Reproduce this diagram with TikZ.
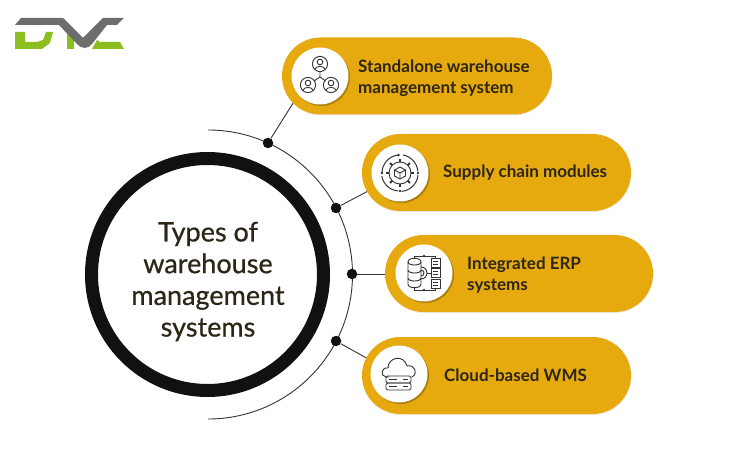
\documentclass[tikz,border=0pt]{standalone}
\usepackage{fontspec}
\setmainfont{Lato}
\newfontfamily\midfont[FakeBold=0.6]{Lato}
\usetikzlibrary{shapes.misc}
\definecolor{gold}{HTML}{E6A90E}
\definecolor{gshadow}{HTML}{C9C4B4}
\definecolor{ink}{HTML}{2B2616}
\definecolor{ringc}{HTML}{111111}
\definecolor{lineC}{HTML}{333333}
\definecolor{logoG}{HTML}{6D6D6D}
\definecolor{logoL}{HTML}{8CBE22}
\tikzset{
  pill/.style={rounded rectangle,fill=gold,draw=none,minimum height=77pt,inner sep=0pt},
  pillshadow/.style={rounded rectangle,fill=gshadow,opacity=.35,draw=none,minimum height=77pt,inner sep=0pt},
  disc/.style={circle,fill=white,minimum size=57pt,inner sep=0pt},
  discshadow/.style={circle,fill=black,opacity=.25,minimum size=57pt,inner sep=0pt},
  dotn/.style={circle,fill=ringc,minimum size=10.5pt,inner sep=0pt},
  conn/.style={draw=lineC,line width=.9pt},
  arcline/.style={draw=lineC,line width=.9pt},
  lab/.style={font=\fontsize{17}{21}\selectfont\bfseries,text=ink,align=left,inner sep=0pt},
  maintext/.style={font=\midfont\fontsize{27}{31.7}\selectfont,text=ink,align=center,inner sep=0pt},
  ic/.style={draw=lineC,line width=.9pt,fill=none},
}
\begin{document}
\begin{tikzpicture}[x=1pt,y=-1pt]
\useasboundingbox[fill=white] (0,0) rectangle (748,468);
% logo
\fill[logoL] (15,32) -- (25,32) -- (25,42) -- (37,42) -- (43,40) -- (46,32) -- (53,32) -- (50,43) -- (42,49) -- (15,49) -- cycle;
\fill[logoL] (67,32) -- (74,39) -- (74,49) -- (67,49) -- cycle;
\fill[logoL] (97,40) -- (100,42) -- (120,42) -- (124,49) -- (92,49) -- cycle;
\fill[logoG] (15,25) -- (21,18) -- (63,18) -- (83,38) -- (103,18) -- (124,18) -- (117,25) -- (107,25) -- (92,44) .. controls (88,49) and (82,49) .. (78,45) -- (59,25) -- cycle;
% arc and connectors
\coordinate (c) at (207.5,274.5);
\draw[arcline] (208,130) arc[start angle=-90,end angle=90,radius=144.5];
\node[dotn] (d1) at (268,143) {};
\node[dotn] (d2) at (336,208) {};
\node[dotn] (d3) at (352,274) {};
\node[dotn] (d4) at (336,341) {};
\coordinate (e1) at (295,100);
\coordinate (e2) at (370,190);
\coordinate (e3) at (390,274);
\coordinate (e4) at (370,360);
\draw[conn] (d1) -- (e1);
\draw[conn] (d2) -- (e2);
\draw[conn] (d3) -- (e3);
\draw[conn] (d4) -- (e4);
% big ring
\node[circle,draw=ringc,line width=13pt,fill=white,minimum size=232pt,inner sep=0pt] (hub) at (c) {};
\node[maintext] (title) at (208,281.5) {Types of\\warehouse\\management\\systems};
% pills
\node[pillshadow,minimum width=270pt] at (417.5,77) {};
\node[pillshadow,minimum width=269pt] at (497,173.5) {};
\node[pillshadow,minimum width=268pt] at (519.5,274.5) {};
\node[pillshadow,minimum width=269pt] at (497,376.5) {};
\node[pill,minimum width=270pt] (p1) at (417,76) {};
\node[pill,minimum width=269pt] (p2) at (496.5,172.5) {};
\node[pill,minimum width=268pt] (p3) at (519,273.5) {};
\node[pill,minimum width=269pt] (p4) at (496.5,375.5) {};
% discs
\node[discshadow] at (321.5,77.5) {};
\node[discshadow] at (401.5,174.5) {};
\node[discshadow] at (425.5,274.5) {};
\node[discshadow] at (400.5,375.5) {};
\node[disc] (w1) at (320,76) {};
\node[disc] (w2) at (400,173) {};
\node[disc] (w3) at (424,273) {};
\node[disc] (w4) at (399,374) {};
% labels
\node[lab,anchor=west] (t1) at (358,78) {Standalone warehouse\\management system};
\node[lab,anchor=west] (t2) at (443,172.5) {Supply chain modules};
\node[lab,anchor=west] (t3) at (467,275) {Integrated ERP\\systems};
\node[lab,anchor=west] (t4) at (444,375) {Cloud-based WMS};
% icon 1: three people
\begin{scope}[shift={(w1)}]
  \foreach \p/\q in {0/-12,-12/9,11/9}{
    \begin{scope}[shift={(\p,\q)}]
      \draw[ic] (0,0) circle (7.6);
      \draw[ic] (0,-2) circle (2.8);
      \draw[ic] (-5,5.2) .. controls (-4,1.5) and (4,1.5) .. (5,5.2);
    \end{scope}
  }
  \draw[ic] (0,-4.4) -- (0,1) -- (-6,5);
  \draw[ic] (0,1) -- (5.5,5);
\end{scope}
% icon 2: gear and box
\begin{scope}[shift={(w2)}]
  \draw[ic] (0,0) circle (11);
  \foreach \a in {0,45,...,315}{\draw[ic,line width=2pt,rotate=\a] (11,0) -- (14,0);}
  \draw[ic] (0,-6) -- (5.5,-3) -- (5.5,3) -- (0,6) -- (-5.5,3) -- (-5.5,-3) -- cycle;
  \draw[ic] (-5.5,-3) -- (0,0) -- (5.5,-3) (0,0) -- (0,6);
  \draw[ic,line width=1pt] (-18,0) arc[start angle=180,end angle=265,radius=18];
  \draw[ic,line width=1pt] (3,-18) arc[start angle=-80,end angle=-5,radius=18];
  \draw[ic,line width=1pt] (18,2) arc[start angle=5,end angle=85,radius=18];
  \draw[ic,line width=1pt] (-2,18) arc[start angle=95,end angle=170,radius=18];
  \fill[lineC] (-1.5,-18) circle (1.4) (18,0) circle (1.4) (0,18) circle (1.4) (-18,0) circle (1.4);
\end{scope}
% icon 3: database and modules
\begin{scope}[shift={(w3)}]
  \draw[ic] (-16,-11) .. controls (-16,-16) and (-3,-16) .. (-3,-11) -- (-3,11) .. controls (-3,16) and (-16,16) .. (-16,11) -- cycle;
  \draw[ic] (-16,-11) .. controls (-16,-7) and (-3,-7) .. (-3,-11);
  \draw[ic] (-16,-3) .. controls (-16,1) and (-3,1) .. (-3,-3);
  \draw[ic] (-16,5) .. controls (-16,9) and (-3,9) .. (-3,5);
  \draw[ic] (-3,-6) arc[start angle=-90,end angle=90,radius=6];
  \draw[ic] (-3,-3) arc[start angle=-90,end angle=90,radius=3];
  \draw[ic] (-10,-14) -- (-10,-17) -- (11,-17) -- (11,-15);
  \draw[ic] (-10,14) -- (-10,17) -- (11,17) -- (11,15);
  \draw[ic] (3,0) -- (7,0);
  \foreach \q in {-10.5,0,10.5}{
    \draw[ic] (7,\q-4.5) rectangle (16,\q+4.5);
    \draw[ic,line width=.6pt] (9,\q-1.5) -- (14,\q-1.5) (9,\q+1.5) -- (14,\q+1.5);
  }
  \fill[lineC] (0,-17) circle (1.4) (0,17) circle (1.4);
\end{scope}
% icon 4: cloud and server
\begin{scope}[shift={(w4)}]
  \draw[ic] (-10,3) -- (-13,3) .. controls (-19,2) and (-18,-7) .. (-11,-6) .. controls (-11,-17) and (5,-20) .. (8,-8) .. controls (15,-10) and (20,-1) .. (13,3);
  \draw[ic,rounded corners=1.5pt] (-13,2) rectangle (12,9);
  \draw[ic,rounded corners=1.5pt] (-13,9) rectangle (12,16);
  \draw[ic] (-10,5.5) -- (-2,5.5) (-10,12.5) -- (-2,12.5);
  \draw[ic] (4,5.5) -- (9,5.5) (4,12.5) -- (9,12.5);
\end{scope}
\end{tikzpicture}
\end{document}
